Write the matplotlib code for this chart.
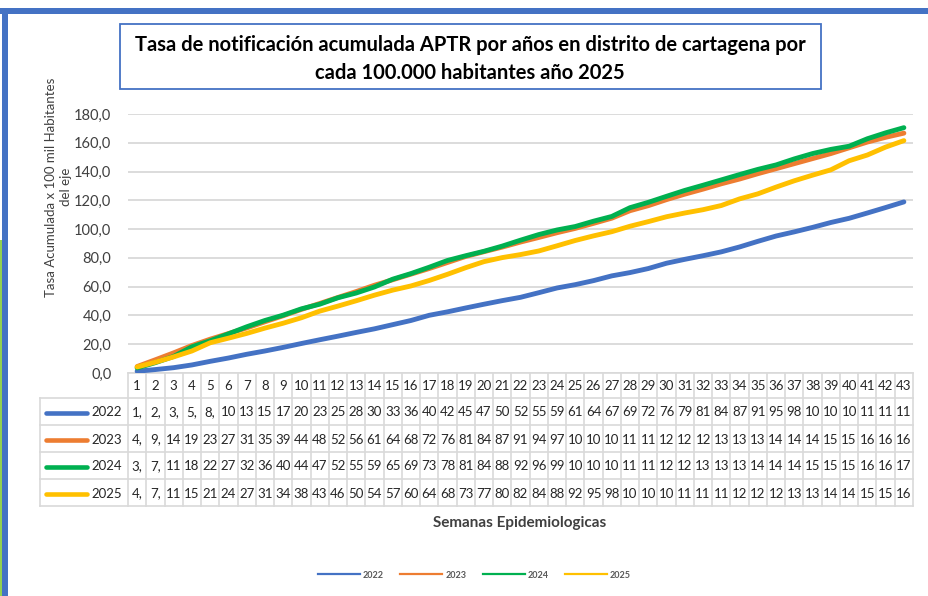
import matplotlib.pyplot as plt
from matplotlib.patches import Rectangle

plt.rcParams['font.family'] = ['Lato', 'DejaVu Sans']

weeks = list(range(1, 44))
years = ['2022', '2023', '2024', '2025']
tasa_2022 = [1.2, 2.4, 3.7, 5.6, 8.1, 10.4, 13.0, 15.3, 17.8, 20.5, 23.1, 25.6, 28.2, 30.7,
             33.6, 36.5, 40.1, 42.5, 45.2, 47.8, 50.3, 52.6, 55.8, 59.1, 61.4, 64.2, 67.5,
             69.8, 72.6, 76.3, 79.0, 81.5, 84.2, 87.6, 91.5, 95.2, 98.1, 101.2, 104.6, 107.5,
             111.2, 115.0, 118.9]
tasa_2023 = [4.5, 9.2, 14.0, 19.1, 23.5, 27.4, 31.3, 35.6, 39.8, 44.2, 48.3, 52.5, 56.6, 61.0,
             64.8, 68.7, 72.6, 76.8, 81.0, 84.3, 87.5, 91.0, 94.2, 97.5, 100.5, 104.0, 107.6,
             112.8, 116.3, 120.5, 124.3, 127.8, 131.5, 134.8, 138.5, 142.0, 145.5, 149.0,
             152.5, 156.5, 160.5, 163.8, 166.7]
tasa_2024 = [3.5, 7.2, 11.5, 18.2, 22.4, 27.2, 32.1, 36.5, 40.2, 44.6, 47.8, 52.3, 55.6, 59.8,
             65.2, 69.1, 73.5, 78.2, 81.5, 84.6, 88.2, 92.3, 96.2, 99.4, 101.8, 105.5, 108.8,
             114.9, 118.6, 122.8, 126.9, 130.5, 134.2, 137.9, 141.5, 144.6, 148.8, 152.5,
             155.4, 157.6, 162.8, 166.9, 170.5]
tasa_2025 = [4.2, 7.5, 11.2, 15.3, 21.0, 24.2, 27.5, 31.2, 34.6, 38.4, 43.0, 46.5, 50.2, 54.1,
             57.6, 60.5, 64.3, 68.6, 73.2, 77.4, 80.2, 82.3, 84.8, 88.4, 92.1, 95.3, 98.2,
             102.0, 105.2, 108.6, 111.2, 113.5, 116.4, 121.0, 124.5, 129.2, 133.6, 137.5,
             141.2, 147.5, 151.5, 157.0, 161.5]
series = [tasa_2022, tasa_2023, tasa_2024, tasa_2025]
colors = ['#4472C4', '#ED7D31', '#00B050', '#FFC000']

W, H = 929, 596
fig = plt.figure(figsize=(W / 100, H / 100), dpi=100)

# overlay in pixel coordinates for frame, title box, table, legend
ov = fig.add_axes([0, 0, 1, 1])
ov.set_xlim(0, W)
ov.set_ylim(H, 0)
ov.axis('off')

# plot area (pixels)
left, right, top, bottom = 128, 913, 114, 373
ax = fig.add_axes([left / W, 1 - bottom / H, (right - left) / W, (bottom - top) / H])
ax.patch.set_visible(False)
for i, vals in enumerate(series):
    ax.plot(weeks, vals, color=colors[i], lw=3.5, solid_capstyle='round',
            solid_joinstyle='round', zorder=3)
ax.set_xlim(0.5, 43.5)
ax.set_ylim(0, 180)
ax.set_yticks(range(0, 181, 20))
ax.set_yticklabels([f'{v:.1f}'.replace('.', ',') for v in range(0, 181, 20)])
ax.set_xticks([])
ax.tick_params(axis='y', length=0, pad=12, labelsize=10.5, labelcolor='#404040')
ax.grid(axis='y', color='#d9d9d9', lw=1.3)
for s in ax.spines.values():
    s.set_visible(False)

# outer frame strips
ov.add_patch(Rectangle((0, 8), W, 6, color='#4472C4', lw=0))
ov.add_patch(Rectangle((2, 8), 6, H - 8, color='#4472C4', lw=0))
ov.add_patch(Rectangle((0, 240), 2, H - 240, color='#92D050', lw=0))

# title box
ov.add_patch(Rectangle((120, 24), 701, 65, facecolor='white', edgecolor='#4472C4', lw=1.3))
ov.text(470, 45, 'Tasa de notificación acumulada APTR por años en distrito de cartagena por',
        ha='center', va='center', fontsize=14.5, fontweight='bold', color='black')
ov.text(470, 73, 'cada 100.000 habitantes año 2025',
        ha='center', va='center', fontsize=14.5, fontweight='bold', color='black')

# y axis title
ov.text(59, 187, 'Tasa Acumulada x 100 mil Habitantes\ndel eje', rotation=90,
        ha='center', va='center', multialignment='center', fontsize=9.5,
        color='#404040', linespacing=1.3)

# data table
cw = (right - left) / len(weeks)
grid_c = '#d9d9d9'
head_top, head_bot, row_h = 373, 398, 27
tab_left = 40
tab_bot = head_bot + row_h * len(years)
ov.plot([left, right], [head_top, head_top], color=grid_c, lw=1.2)
for k in range(len(years) + 1):
    y = head_bot + k * row_h
    ov.plot([tab_left, right], [y, y], color=grid_c, lw=1.2)
ov.plot([tab_left, tab_left], [head_bot, tab_bot], color=grid_c, lw=1.2)
for j in range(len(weeks) + 1):
    x = left + j * cw
    ov.plot([x, x], [head_top, tab_bot], color=grid_c, lw=1.2)

for j, w in enumerate(weeks):
    cx = left + (j + 0.5) * cw
    ov.text(cx, (head_top + head_bot) / 2 + 1, str(w), ha='center', va='center',
            fontsize=9.5, color='#262626')
for k, (yr, vals) in enumerate(zip(years, series)):
    cy = head_bot + (k + 0.5) * row_h + 1
    ov.plot([46, 87], [cy, cy], color=colors[k], lw=3.3, solid_capstyle='round')
    ov.text(91, cy, yr, ha='left', va='center', fontsize=9.5, color='#262626')
    for j, v in enumerate(vals):
        cx = left + (j + 0.5) * cw
        txt = f'{v:.1f}'.replace('.', ',')[:2]
        ov.text(cx, cy, txt, ha='center', va='center', fontsize=9.5, color='#262626')

# x axis title
ov.text(520, 523, 'Semanas Epidemiologicas', ha='center', va='center',
        fontsize=11, fontweight='bold', color='#404040')

# bottom legend
for k, yr in enumerate(years):
    x0 = 318 + k * 82.3
    ov.plot([x0, x0 + 42], [574, 574], color=colors[k], lw=1.6)
    ov.text(x0 + 45, 575, yr, ha='left', va='center', fontsize=6.5,
            fontweight='bold', color='#595959')

fig.savefig('out.png', dpi=100)
